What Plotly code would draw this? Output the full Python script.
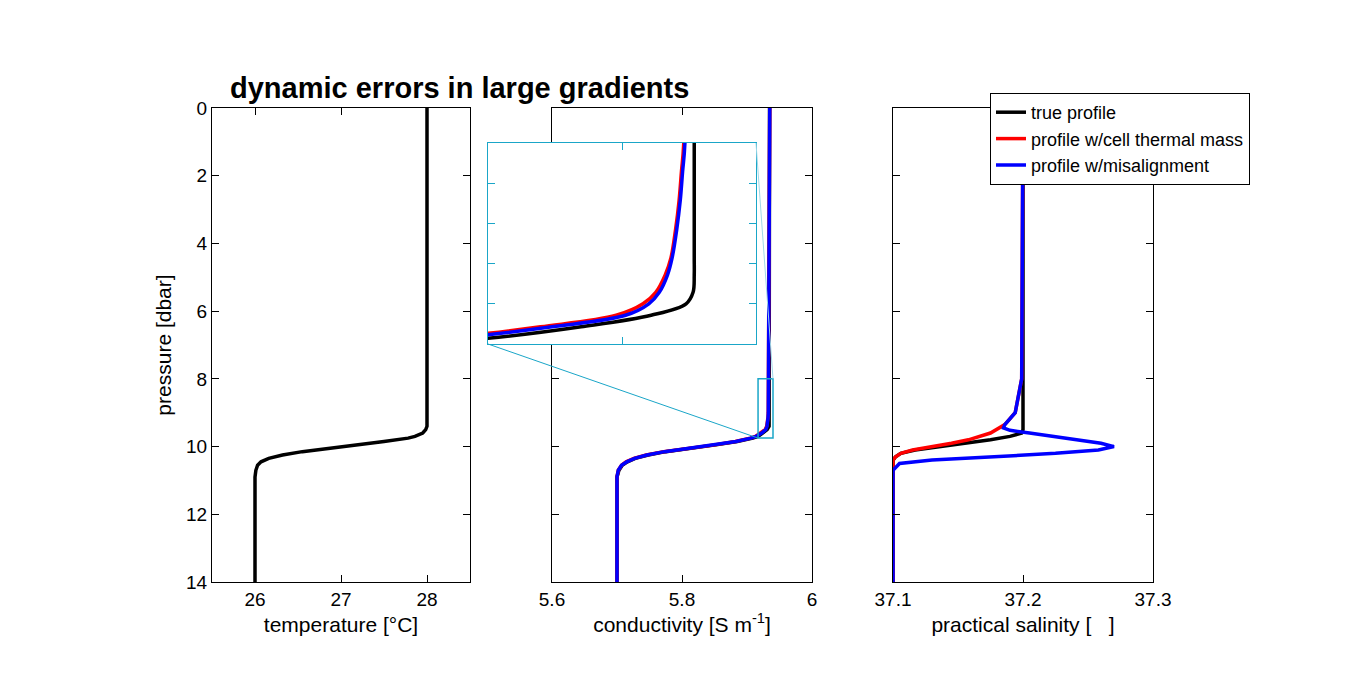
import plotly.graph_objects as go

# pressure grid for temperature / conductivity profiles [dbar]
pres = [0, 8, 8.25, 8.5, 8.75, 9, 9.15, 9.3, 9.4, 9.5, 9.6, 9.7, 9.75, 9.85, 9.95, 10.05,
        10.15, 10.25, 10.35, 10.45, 10.55, 10.7, 10.9, 14]
temp_true = [28, 28, 28, 28, 28, 28, 28, 28, 28, 27.985, 27.95, 27.86, 27.78, 27.5, 27.18,
             26.85, 26.55, 26.32, 26.16, 26.07, 26.03, 26.01, 26.0, 26.0]
cond_true = [5.9347, 5.9347, 5.9347, 5.9347, 5.9347, 5.9347, 5.9347, 5.9346, 5.934, 5.931,
             5.925, 5.917, 5.909, 5.885, 5.852, 5.812, 5.775, 5.748, 5.728, 5.716, 5.708,
             5.703, 5.700, 5.700]
cond_thermal = [5.935, 5.9338, 5.9336, 5.9334, 5.9331, 5.9327, 5.9322, 5.9314, 5.9303, 5.928,
                5.9215, 5.913, 5.905, 5.882, 5.850, 5.810, 5.772, 5.745, 5.726, 5.714, 5.707,
                5.702, 5.700, 5.700]
cond_misalign = [5.935, 5.9339, 5.9337, 5.9335, 5.9332, 5.9328, 5.9324, 5.9317, 5.9308, 5.9288,
                 5.9225, 5.914, 5.906, 5.883, 5.851, 5.811, 5.773, 5.746, 5.727, 5.715, 5.707,
                 5.702, 5.700, 5.700]

# salinity profiles
sal_p_true = [0, 9.5, 9.6, 9.7, 9.8, 9.9, 10.0, 10.1, 10.2, 10.3, 10.4, 10.5, 10.7, 14]
sal_true = [37.2, 37.2, 37.199, 37.19, 37.175, 37.155, 37.135, 37.117, 37.106, 37.102, 37.1, 37.1, 37.1, 37.1]
sal_p_thermal = [0, 8, 9.0, 9.35, 9.6, 9.8, 9.9, 10.0, 10.1, 10.2, 10.3, 10.4, 10.6, 14]
sal_thermal = [37.2, 37.199, 37.194, 37.186, 37.175, 37.158, 37.145, 37.13, 37.115, 37.106, 37.102, 37.1, 37.1, 37.1]
sal_p_misalign = [0, 8, 9.0, 9.35, 9.45, 9.52, 9.6, 9.7, 9.8, 9.9, 10.0, 10.1, 10.2, 10.3,
                  10.4, 10.5, 10.7, 14]
sal_misalign = [37.2, 37.199, 37.194, 37.186, 37.185, 37.19, 37.205, 37.222, 37.242, 37.26, 37.27,
                37.258, 37.225, 37.18, 37.13, 37.105, 37.1, 37.1]

names = ["true profile", "profile w/cell thermal mass", "profile w/misalignment"]
colors = ["black", "red", "blue"]

W, H = 1350, 675
def px(x0, x1):
    return [x0 / W, x1 / W]
def py(top, bottom):
    return [1 - bottom / H, 1 - top / H]

dom_y = py(100, 574)
dom = {1: px(204, 462), 2: px(544, 804), 3: px(885, 1145), 4: px(480, 748)}
inset_y = py(135, 336)
C_RNG = [5.6, 6.0]
ZX = [5.917, 5.94]
ZY = [9.75, 8]
CYAN = "#1aa6c8"

fig = go.Figure()
fig.add_trace(go.Scatter(x=temp_true, y=pres, mode="lines", line=dict(color="black", width=3.5),
                         xaxis="x", yaxis="y", showlegend=False))
for i, c in enumerate([cond_true, cond_thermal, cond_misalign]):
    fig.add_trace(go.Scatter(x=c, y=pres, mode="lines", line=dict(color=colors[i], width=3.5),
                             xaxis="x2", yaxis="y2", showlegend=False))
    fig.add_trace(go.Scatter(x=c, y=pres, mode="lines", line=dict(color=colors[i], width=3.5, shape="spline"),
                             xaxis="x4", yaxis="y4", showlegend=False))
for i, (pp, s) in enumerate([(sal_p_true, sal_true), (sal_p_thermal, sal_thermal),
                             (sal_p_misalign, sal_misalign)]):
    fig.add_trace(go.Scatter(x=s, y=pp, mode="lines", line=dict(color=colors[i], width=3.5),
                             xaxis="x3", yaxis="y3", name=names[i]))

ax = dict(showline=True, linecolor="black", linewidth=1, mirror="allticks", ticks="inside",
          ticklen=7, tickcolor="black", showgrid=False, zeroline=False, automargin=False,
          tickfont=dict(size=19, color="black"))
tfont = dict(size=21, color="black")
fig.update_layout(
    width=W, height=H, autosize=False, margin=dict(l=0, r=0, t=0, b=0, pad=0),
    paper_bgcolor="white", plot_bgcolor="white",
    font=dict(family="Arial, Liberation Sans", color="black"),
    xaxis=dict(ax, domain=dom[1], anchor="y", range=[25.5, 28.5], tickvals=[26, 27, 28],
               title=dict(text="temperature [°C]", font=tfont, standoff=8)),
    yaxis=dict(ax, domain=dom_y, anchor="x", range=[14, 0], dtick=2,
               title=dict(text="pressure [dbar]", font=tfont, standoff=8)),
    xaxis2=dict(ax, domain=dom[2], anchor="y2", range=C_RNG, tickvals=[5.6, 5.8, 6],
                ticktext=["5.6", "5.8", "6"],
                title=dict(text="conductivity [S m<sup>-1</sup>]", font=tfont, standoff=8)),
    yaxis2=dict(ax, domain=dom_y, anchor="x2", range=[14, 0], dtick=2, showticklabels=False),
    xaxis3=dict(ax, domain=dom[3], anchor="y3", range=[37.1, 37.3], tickvals=[37.1, 37.2, 37.3],
                title=dict(text="practical salinity [   ]", font=tfont, standoff=8)),
    yaxis3=dict(ax, domain=dom_y, anchor="x3", range=[14, 0], dtick=2, showticklabels=False),
    xaxis4=dict(ax, domain=dom[4], anchor="y4", range=ZX, linecolor=CYAN, tickcolor=CYAN,
                tickvals=[5.9285], showticklabels=False),
    yaxis4=dict(ax, domain=inset_y, anchor="x4", range=ZY, linecolor=CYAN, tickcolor=CYAN,
                tickvals=[8.35, 8.7, 9.05, 9.4], showticklabels=False),
    legend=dict(x=982 / W, y=1 - 85 / H, xanchor="left", yanchor="top", bgcolor="white",
                bordercolor="black", borderwidth=1, font=dict(size=18, color="black"),
                tracegroupgap=0),
    annotations=[dict(text="<b>dynamic errors in large gradients</b>", x=220 / W, y=1 - 80 / H,
                      xref="paper", yref="paper", xanchor="left", yanchor="middle",
                      showarrow=False, font=dict(size=29, color="black"))],
)

# zoom rectangle on the conductivity panel and connector lines to the inset
def cond_to_paper(c, p):
    fx = dom[2][0] + (c - C_RNG[0]) / (C_RNG[1] - C_RNG[0]) * (dom[2][1] - dom[2][0])
    fy = dom_y[1] - p / 14 * (dom_y[1] - dom_y[0])
    return fx, fy

fig.add_shape(type="rect", xref="x2", yref="y2", x0=ZX[0], x1=ZX[1], y0=ZY[1], y1=ZY[0],
              line=dict(color=CYAN, width=1.5))
bl = cond_to_paper(ZX[0], ZY[0])
tr = cond_to_paper(ZX[1], ZY[1])
fig.add_shape(type="line", xref="paper", yref="paper", x0=dom[4][0], y0=inset_y[0],
              x1=bl[0], y1=bl[1], line=dict(color=CYAN, width=1))
fig.add_shape(type="line", xref="paper", yref="paper", x0=dom[4][1], y0=inset_y[1],
              x1=tr[0], y1=tr[1], line=dict(color="#9fd8e8", width=1))

fig.write_html("out.html")
